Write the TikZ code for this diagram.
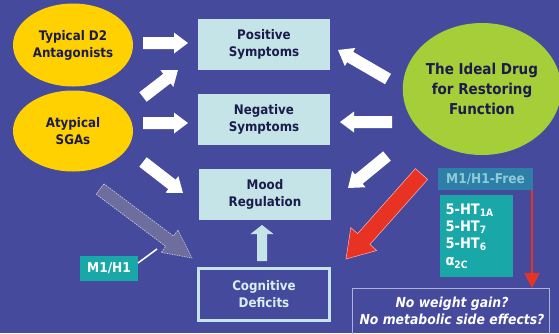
\documentclass[tikz,border=0pt]{standalone}
\usepackage{fontspec}
\setmainfont{DejaVuSansCondensed}[Extension=.ttf, UprightFont=*, BoldFont=*-Bold, ItalicFont=*-Oblique, BoldItalicFont=*-BoldOblique]
\usetikzlibrary{shapes.geometric,calc,arrows.meta}
\definecolor{bg}{RGB}{69,74,157}
\definecolor{yel}{RGB}{255,209,0}
\definecolor{grn}{RGB}{166,206,57}
\definecolor{lbx}{RGB}{196,228,232}
\definecolor{navy}{RGB}{28,28,76}
\definecolor{tealbx}{RGB}{25,167,168}
\definecolor{steel}{RGB}{45,127,168}
\definecolor{steeltxt}{RGB}{142,203,214}
\definecolor{redarr}{RGB}{232,50,36}
\definecolor{grayarr}{RGB}{109,109,158}
\definecolor{lavline}{RGB}{176,176,216}
\definecolor{cogtxt}{RGB}{216,238,240}
% block arrow: style, from, to, half shaft, half head, head length
\newcommand\blkarrow[6]{%
  \coordinate (bkC) at ($(#3)!#6!(#2)$);
  \path[#1] ($(#2)!#4!90:(#3)$) -- ($(bkC)!#4!90:(#3)$) -- ($(bkC)!#5!90:(#3)$)
    -- (#3) -- ($(bkC)!#5!-90:(#3)$) -- ($(bkC)!#4!-90:(#3)$) -- ($(#2)!#4!-90:(#3)$) -- cycle;}
\tikzset{
  mainfont/.style={font=\fontsize{13.2}{17}\selectfont\bfseries},
  lbox/.style={fill=lbx, text=navy, minimum width=132, minimum height=51, inner sep=0, align=center, mainfont},
  ovl/.style={ellipse, inner sep=0, text=navy, align=center, mainfont},
  whitearr/.style={fill=white},
}
\begin{document}
\begin{tikzpicture}[x=1pt,y=-1pt]
\useasboundingbox (0,0) rectangle (559,333);
\fill[bg] (0,0) rectangle (559,333);
% ellipses
\node[ovl, fill=yel, minimum width=120, minimum height=83] (typ) at (73,45) {Typical D2\\Antagonists};
\node[ovl, fill=yel, minimum width=120, minimum height=81] (aty) at (73,131) {Atypical\\SGAs};
\node[ovl, fill=grn, minimum width=150, minimum height=132, font=\fontsize{15}{20}\selectfont\bfseries] (ideal) at (482,89) {The Ideal Drug\\for Restoring\\Function};
% boxes
\node[lbox] (pos) at (264,44.5) {Positive\\Symptoms};
\node[lbox] (neg) at (264,119.5) {Negative\\Symptoms};
\node[lbox] (mood) at (265,194.5) {Mood\\Regulation};
\node[draw=lbx, line width=2.6pt, fill=bg, text=cogtxt, minimum width=131, minimum height=52, inner sep=0, align=center, mainfont] (cog) at (264,294.5) {Cognitive\\Deficits};
\node[fill=tealbx, text=white, minimum width=58, minimum height=25, inner sep=0, font=\fontsize{13.5}{15}\selectfont\bfseries] (m1) at (109,268.5) {M1/H1};
\node[fill=steel, text=steeltxt, minimum width=95, minimum height=22, inner sep=0, font=\fontsize{13.5}{15}\selectfont\bfseries] (free) at (485.5,179) {M1/H1-Free};
\node[fill=tealbx, text=white, minimum width=73, minimum height=82, inner sep=0, text width=62, align=left, font=\fontsize{14.5}{17}\selectfont\bfseries] (ht) at (476.5,236) {5-HT\textsubscript{1A}\\5-HT\textsubscript{7}\\5-HT\textsubscript{6}\\α\textsubscript{2C}};
\node[draw=lavline, line width=1pt, minimum width=197, minimum height=60, inner sep=0, anchor=north west] (nobox) at (352,288) {};
\node[text=white, align=center, inner sep=0, font=\fontsize{13.8}{17.5}\selectfont\bfseries\itshape] (notext) at (452,311) {No weight gain?\\No metabolic side effects?};
% arrow end coordinates
\coordinate (a1s) at (143,43);  \coordinate (a1e) at (188,43);
\coordinate (a2s) at (143,97);  \coordinate (a2e) at (178,70);
\coordinate (a3s) at (143,123); \coordinate (a3e) at (188,123);
\coordinate (a4s) at (143,162); \coordinate (a4e) at (183,193);
\coordinate (b1s) at (388,79);  \coordinate (b1e) at (338,50);
\coordinate (b2s) at (392,122); \coordinate (b2e) at (340,122);
\coordinate (b3s) at (387,156); \coordinate (b3e) at (348,188);
\coordinate (cus) at (262,261); \coordinate (cue) at (262,225);
\coordinate (gs) at (100,189);  \coordinate (ge) at (192,258);
\coordinate (rs) at (421.5,174); \coordinate (re) at (346,259);
\coordinate (m1l) at (138,263); \coordinate (gl) at (157,249);
\coordinate (frs) at (532,190); \coordinate (fre) at (532,288);
% white block arrows
\blkarrow{whitearr}{a1s}{a1e}{6pt}{10.5pt}{14pt}
\blkarrow{whitearr}{a2s}{a2e}{6pt}{10.5pt}{14pt}
\blkarrow{whitearr}{a3s}{a3e}{6pt}{10.5pt}{14pt}
\blkarrow{whitearr}{a4s}{a4e}{6pt}{10.5pt}{14pt}
\blkarrow{whitearr}{b1s}{b1e}{6pt}{10.5pt}{14pt}
\blkarrow{whitearr}{b2s}{b2e}{6pt}{10.5pt}{14pt}
\blkarrow{whitearr}{b3s}{b3e}{6pt}{10.5pt}{14pt}
\blkarrow{fill=lbx}{cus}{cue}{5pt}{11.5pt}{9pt}
\blkarrow{fill=grayarr, draw=lavline!70!white, dashed, dash pattern=on 1.5pt off 1pt, line width=0.6pt}{gs}{ge}{6.5pt}{14pt}{28pt}
\blkarrow{fill=redarr, draw=red!30!white, line width=0.5pt}{rs}{re}{8.2pt}{17.3pt}{26.7pt}
% thin connectors
\draw[white, line width=1.5pt] (m1l) -- (gl);
\draw[redarr, line width=2pt, -{Triangle[width=15pt,length=15pt]}] (frs) -- (fre);
\end{tikzpicture}
\end{document}
